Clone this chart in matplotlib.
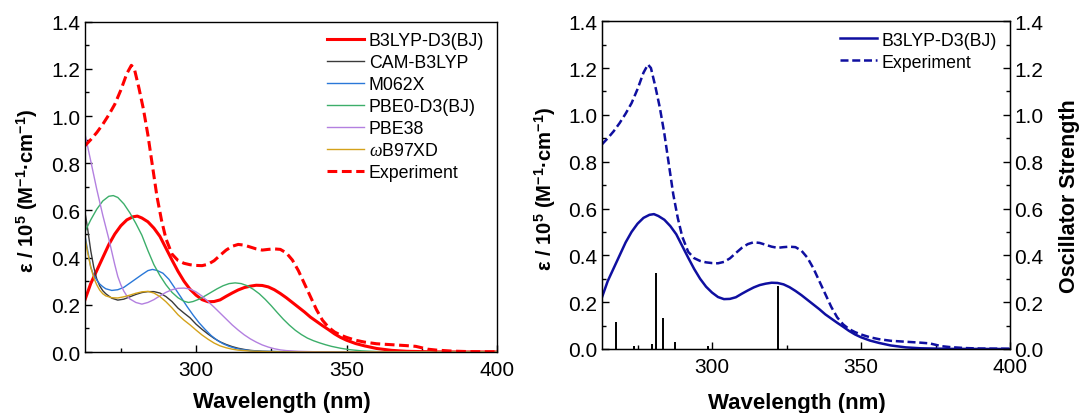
import matplotlib
matplotlib.use("Agg")
import matplotlib.pyplot as plt
from matplotlib.ticker import MultipleLocator

plt.rcParams['font.family'] = ['Liberation Sans', 'DejaVu Sans']
plt.rcParams['mathtext.fontset'] = 'custom'
plt.rcParams['mathtext.rm'] = 'Liberation Sans'
plt.rcParams['mathtext.bf'] = 'Liberation Sans:bold'
plt.rcParams['mathtext.it'] = 'Liberation Serif:italic'

# ---- experimental spectrum ----
wl_exp = [263, 265, 267, 269, 271, 273, 275, 277, 278.5, 279.5, 281, 282.5, 284,
          285.5, 287, 288.5, 290, 292, 294, 296, 298, 300, 302, 304, 306, 308,
          310, 312, 314, 316, 318, 320, 322, 324, 326, 328, 330, 332, 334, 336,
          338, 340, 342, 344, 346, 348, 350, 353, 356, 360, 365, 370, 373, 375,
          377, 380, 385, 390, 400]
eps_exp = [0.873, 0.90, 0.93, 0.965, 1.005, 1.05, 1.11, 1.18, 1.215, 1.20, 1.12,
           1.03, 0.92, 0.79, 0.66, 0.56, 0.48, 0.415, 0.388, 0.376, 0.37, 0.367,
           0.366, 0.372, 0.387, 0.41, 0.432, 0.448, 0.456, 0.453, 0.445, 0.437,
           0.432, 0.435, 0.437, 0.435, 0.42, 0.39, 0.345, 0.29, 0.235, 0.18,
           0.135, 0.105, 0.085, 0.072, 0.062, 0.05, 0.042, 0.035, 0.031, 0.027,
           0.024, 0.018, 0.012, 0.008, 0.004, 0.002, 0.001]

# ---- B3LYP-D3(BJ) ----
wl_b3lyp = [263, 265, 267, 269, 271, 273, 275, 277, 279, 280.5, 282, 284, 286,
            288, 290, 292, 294, 296, 298, 300, 302, 304, 306, 308, 310, 312,
            314, 316, 318, 320, 322, 324, 326, 328, 330, 332, 334, 336, 338,
            340, 342, 344, 346, 348, 350, 353, 356, 360, 365, 370, 380, 400]
eps_b3lyp = [0.218, 0.29, 0.345, 0.40, 0.455, 0.50, 0.535, 0.56, 0.573, 0.576,
             0.568, 0.552, 0.525, 0.49, 0.44, 0.39, 0.342, 0.30, 0.266, 0.241,
             0.222, 0.213, 0.214, 0.221, 0.236, 0.25, 0.263, 0.273, 0.279,
             0.283, 0.282, 0.276, 0.264, 0.248, 0.23, 0.21, 0.19, 0.17, 0.148,
             0.13, 0.112, 0.095, 0.077, 0.062, 0.05, 0.036, 0.026, 0.015, 0.007,
             0.003, 0.0005, 0.0]

# ---- CAM-B3LYP ----
wl_cam = [263, 264, 265, 266, 267, 268, 269, 270, 272, 274, 276, 278, 280, 282,
          284, 286, 288, 290, 292, 294, 296, 298, 300, 302, 304, 306, 308, 310,
          312, 314, 316, 318, 322, 330, 340, 400]
eps_cam = [0.60, 0.52, 0.43, 0.36, 0.31, 0.28, 0.26, 0.247, 0.228, 0.22, 0.224,
           0.234, 0.244, 0.252, 0.256, 0.256, 0.25, 0.235, 0.214, 0.186, 0.165,
           0.145, 0.118, 0.096, 0.076, 0.058, 0.043, 0.032, 0.023, 0.016,
           0.011, 0.007, 0.003, 0.001, 0.0, 0.0]

# ---- M062X ----
wl_m06 = [263, 264, 265, 266, 267, 268, 269, 270, 272, 274, 276, 278, 280, 282,
          284, 285.5, 287, 289, 291, 293, 295, 297, 299, 301, 303, 305, 307,
          309, 311, 313, 315, 318, 322, 330, 340, 400]
eps_m06 = [0.50, 0.43, 0.36, 0.325, 0.305, 0.288, 0.277, 0.268, 0.261, 0.264,
           0.274, 0.292, 0.31, 0.328, 0.345, 0.35, 0.346, 0.334, 0.308, 0.27,
           0.232, 0.193, 0.157, 0.124, 0.096, 0.07, 0.05, 0.035, 0.024, 0.016,
           0.011, 0.006, 0.003, 0.001, 0.0, 0.0]

# ---- PBE0-D3(BJ) ----
wl_pbe0 = [263, 265, 267, 269, 271, 272.5, 274, 276, 278, 280, 282, 284, 286,
           288, 290, 292, 294, 296, 297.5, 299, 301, 303, 305, 307, 309, 311,
           313, 315, 317, 319, 321, 323, 325, 327, 329, 331, 333, 335, 337,
           339, 341, 343, 345, 348, 351, 355, 360, 370, 400]
eps_pbe0 = [0.508, 0.56, 0.605, 0.64, 0.66, 0.663, 0.655, 0.628, 0.59, 0.545,
            0.495, 0.43, 0.37, 0.324, 0.285, 0.253, 0.23, 0.215, 0.21, 0.214,
            0.224, 0.238, 0.253, 0.268, 0.281, 0.29, 0.293, 0.29, 0.281, 0.266,
            0.247, 0.223, 0.196, 0.167, 0.139, 0.114, 0.092, 0.074, 0.059,
            0.048, 0.039, 0.031, 0.024, 0.016, 0.01, 0.005, 0.002, 0.0, 0.0]

# ---- PBE38 ----
wl_pbe38 = [263, 264, 265, 266, 267, 268, 269, 270, 271, 272, 273, 274, 275,
            276, 277, 278, 280, 282, 284, 286, 288, 290, 292, 294, 296, 298,
            300, 302, 304, 306, 308, 310, 312, 314, 316, 318, 320, 322, 324,
            326, 328, 330, 334, 340, 350, 400]
eps_pbe38 = [0.93, 0.87, 0.81, 0.75, 0.69, 0.635, 0.58, 0.53, 0.48, 0.425, 0.37,
             0.32, 0.285, 0.258, 0.238, 0.225, 0.21, 0.203, 0.21, 0.222, 0.238,
             0.253, 0.264, 0.27, 0.271, 0.267, 0.255, 0.237, 0.214, 0.19,
             0.165, 0.14, 0.115, 0.093, 0.073, 0.056, 0.042, 0.03, 0.021,
             0.014, 0.009, 0.006, 0.003, 0.001, 0.0, 0.0]

# ---- wB97XD ----
wl_wb97 = [263, 264, 265, 266, 267, 268, 269, 270, 272, 274, 276, 278, 280, 282,
           284, 286, 288, 290, 292, 294, 296, 298, 300, 302, 304, 306, 308,
           310, 312, 314, 318, 325, 335, 400]
eps_wb97 = [0.49, 0.42, 0.36, 0.315, 0.285, 0.262, 0.247, 0.238, 0.23, 0.229,
            0.234, 0.241, 0.249, 0.255, 0.257, 0.25, 0.235, 0.213, 0.187, 0.158,
            0.135, 0.115, 0.093, 0.072, 0.054, 0.038, 0.026, 0.018, 0.012,
            0.008, 0.004, 0.001, 0.0, 0.0]

# ---- B3LYP-D3(BJ) excitations (oscillator strengths) ----
stick_wl = [267.8, 273.7, 279.8, 281.2, 283.6, 287.5, 298.8, 322.1]
stick_f = [0.114, 0.014, 0.023, 0.326, 0.133, 0.029, 0.012, 0.271]

calc_series = [
    ("CAM-B3LYP", wl_cam, eps_cam, "#3a3a3a"),
    ("M062X", wl_m06, eps_m06, "#2a78d8"),
    ("PBE0-D3(BJ)", wl_pbe0, eps_pbe0, "#3cae6a"),
    ("PBE38", wl_pbe38, eps_pbe38, "#b380e0"),
    (r"$\omega$B97XD", wl_wb97, eps_wb97, "#d4a21a"),
]

RED = "#ff0000"
NAVY = "#0f0fa0"
ylabel = r"ε / 10$^{\mathbf{5}}$ (M$^{\mathbf{-1}}$·cm$^{\mathbf{-1}}$)"
TICK_FS = 15
XLABEL_FS = 16
YLABEL_FS = 14.6
LEG_FS = 12.8
DASH = (3.2, 1.5)

fig = plt.figure(figsize=(10.79, 4.14), dpi=100)
ax1 = fig.add_axes([0.0785, 0.1473, 0.3821, 0.7979])
ax2 = fig.add_axes([0.5577, 0.1546, 0.3784, 0.7918])
ax3 = ax2.twinx()


def style_axis(ax, left=True, right=False):
    ax.set_xlim(263, 400)
    ax.set_ylim(0, 1.4)
    ax.xaxis.set_major_locator(MultipleLocator(50))
    ax.xaxis.set_minor_locator(MultipleLocator(25))
    ax.yaxis.set_major_locator(MultipleLocator(0.2))
    ax.yaxis.set_minor_locator(MultipleLocator(0.1))
    ax.yaxis.set_major_formatter(plt.FuncFormatter(lambda v, p: f"{v:.1f}"))
    ax.tick_params(which='both', direction='in', labelsize=TICK_FS,
                   left=left, right=right, top=False, bottom=True,
                   labelleft=left, labelright=right, width=1.0)
    ax.tick_params(which='major', length=5)
    ax.tick_params(which='minor', length=3)
    ax.tick_params(axis='x', pad=6)
    ax.tick_params(axis='y', pad=3)
    for s in ax.spines.values():
        s.set_linewidth(1.0)


def add_legend(ax):
    ax.legend(loc='upper right', bbox_to_anchor=(0.986, 0.99), frameon=False,
              fontsize=LEG_FS, handlelength=2.1, handletextpad=0.25,
              labelspacing=0.28, borderaxespad=0.0)


def place_labels(ax, ylab_x, xlab_y):
    ax.set_xlabel("Wavelength (nm)", fontsize=XLABEL_FS, fontweight='bold')
    ax.xaxis.set_label_coords(0.478, xlab_y)
    ax.xaxis.label.set_verticalalignment('center')
    ax.set_ylabel(ylabel, fontsize=YLABEL_FS, fontweight='bold')
    ax.yaxis.set_label_coords(ylab_x, 0.49)
    ax.yaxis.label.set_verticalalignment('center')


# left panel: all functionals against experiment
ax1.plot(wl_b3lyp, eps_b3lyp, color=RED, lw=2.2, label="B3LYP-D3(BJ)")
for name, wl, eps, col in calc_series:
    ax1.plot(wl, eps, color=col, lw=1.0, label=name)
ax1.plot(wl_exp, eps_exp, color=RED, lw=2.2, dashes=DASH, label="Experiment")
style_axis(ax1)
place_labels(ax1, -0.14, -0.151)
add_legend(ax1)

# right panel: B3LYP-D3(BJ) spectrum with its excitations
ax2.plot(wl_b3lyp, eps_b3lyp, color=NAVY, lw=1.8, label="B3LYP-D3(BJ)")
ax2.plot(wl_exp, eps_exp, color=NAVY, lw=1.8, dashes=DASH, label="Experiment")
style_axis(ax2)
place_labels(ax2, -0.139, -0.162)
add_legend(ax2)

ax3.vlines(stick_wl, 0, stick_f, color='black', lw=1.4)
ax3.set_ylim(0, 1.4)
ax3.yaxis.set_major_locator(MultipleLocator(0.2))
ax3.yaxis.set_minor_locator(MultipleLocator(0.1))
ax3.yaxis.set_major_formatter(plt.FuncFormatter(lambda v, p: f"{v:.1f}"))
ax3.tick_params(which='both', direction='in', labelsize=TICK_FS, width=1.0, pad=3)
ax3.tick_params(which='major', length=5)
ax3.tick_params(which='minor', length=3)
ax3.set_ylabel("Oscillator Strength", fontsize=15.5, fontweight='bold')
ax3.yaxis.set_label_coords(1.1445, 0.47)
ax3.yaxis.label.set_verticalalignment('center')

fig.savefig("out.png", dpi=100)
